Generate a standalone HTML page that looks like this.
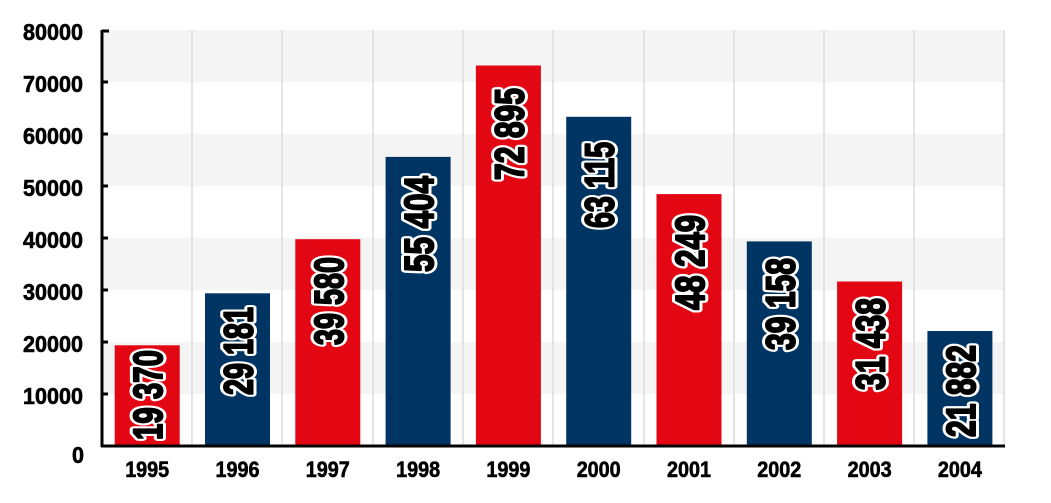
<!DOCTYPE html>
<html><head><meta charset="utf-8"><style>
html,body{margin:0;padding:0;background:#fff;}
svg text{font-family:"Liberation Sans",sans-serif;font-weight:bold;}
</style></head><body>
<svg width="1051" height="498" viewBox="0 0 1051 498" xmlns="http://www.w3.org/2000/svg">
<defs>
<g id="L">
<text transform="translate(162.2,440) rotate(-90)" textLength="90" lengthAdjust="spacingAndGlyphs">19 370</text>
<text transform="translate(252.5,395) rotate(-90)" textLength="88" lengthAdjust="spacingAndGlyphs">29 181</text>
<text transform="translate(342.8,345) rotate(-90)" textLength="88" lengthAdjust="spacingAndGlyphs">39 580</text>
<text transform="translate(433.1,272) rotate(-90)" textLength="96" lengthAdjust="spacingAndGlyphs">55 404</text>
<text transform="translate(523.4,180) rotate(-90)" textLength="92" lengthAdjust="spacingAndGlyphs">72 895</text>
<text transform="translate(613.7,228) rotate(-90)" textLength="86" lengthAdjust="spacingAndGlyphs">63 115</text>
<text transform="translate(704.0,310) rotate(-90)" textLength="95" lengthAdjust="spacingAndGlyphs">48 249</text>
<text transform="translate(794.3,350) rotate(-90)" textLength="92" lengthAdjust="spacingAndGlyphs">39 158</text>
<text transform="translate(884.6,390) rotate(-90)" textLength="92" lengthAdjust="spacingAndGlyphs">31 438</text>
<text transform="translate(974.9,437) rotate(-90)" textLength="92" lengthAdjust="spacingAndGlyphs">21 882</text>
</g>
</defs>
<g fill="#f4f4f4">
<rect x="104" y="30" width="901" height="52"/>
<rect x="104" y="134" width="901" height="52"/>
<rect x="104" y="238" width="901" height="52"/>
<rect x="104" y="342" width="901" height="52"/>
</g>
<g stroke="#dcdcdc" stroke-width="1.5">
<line x1="192" y1="30" x2="192" y2="446"/><line x1="282" y1="30" x2="282" y2="446"/>
<line x1="373" y1="30" x2="373" y2="446"/><line x1="463" y1="30" x2="463" y2="446"/>
<line x1="553" y1="30" x2="553" y2="446"/><line x1="644" y1="30" x2="644" y2="446"/>
<line x1="734" y1="30" x2="734" y2="446"/><line x1="824" y1="30" x2="824" y2="446"/>
<line x1="914" y1="30" x2="914" y2="446"/><line x1="1004" y1="30" x2="1004" y2="446"/>
</g>
<g>
<rect x="114.7" y="345.3" width="65" height="100.7" fill="#e30613"/>
<rect x="205.0" y="293.3" width="65" height="152.7" fill="#003462"/>
<rect x="295.3" y="239.2" width="65" height="206.8" fill="#e30613"/>
<rect x="385.6" y="156.9" width="65" height="289.1" fill="#003462"/>
<rect x="475.9" y="65.5" width="65" height="380.5" fill="#e30613"/>
<rect x="566.2" y="116.8" width="65" height="329.2" fill="#003462"/>
<rect x="656.5" y="194.1" width="65" height="251.9" fill="#e30613"/>
<rect x="746.8" y="241.4" width="65" height="204.6" fill="#003462"/>
<rect x="837.1" y="281.5" width="65" height="164.5" fill="#e30613"/>
<rect x="927.4" y="331" width="65" height="115" fill="#003462"/>
</g>
<g stroke="#000" stroke-width="3" fill="none">
<line x1="102" y1="30" x2="102" y2="447"/>
<line x1="101" y1="446" x2="1005" y2="446"/>
<line x1="102" y1="31" x2="109" y2="31"/><line x1="102" y1="82" x2="108" y2="82"/>
<line x1="102" y1="134" x2="108" y2="134"/><line x1="102" y1="186" x2="108" y2="186"/>
<line x1="102" y1="238" x2="108" y2="238"/><line x1="102" y1="290" x2="108" y2="290"/>
<line x1="102" y1="342" x2="108" y2="342"/><line x1="102" y1="394" x2="108" y2="394"/>
</g>
<g font-size="23" fill="#000" stroke="#000" stroke-width="0.6">
<text x="23" y="40" textLength="60" lengthAdjust="spacingAndGlyphs">80000</text>
<text x="23" y="92" textLength="60" lengthAdjust="spacingAndGlyphs">70000</text>
<text x="23" y="144" textLength="60" lengthAdjust="spacingAndGlyphs">60000</text>
<text x="23" y="196" textLength="60" lengthAdjust="spacingAndGlyphs">50000</text>
<text x="23" y="248" textLength="60" lengthAdjust="spacingAndGlyphs">40000</text>
<text x="23" y="300" textLength="60" lengthAdjust="spacingAndGlyphs">30000</text>
<text x="23" y="352" textLength="60" lengthAdjust="spacingAndGlyphs">20000</text>
<text x="23" y="404" textLength="60" lengthAdjust="spacingAndGlyphs">10000</text>
<text x="72" y="463" textLength="12" lengthAdjust="spacingAndGlyphs">0</text>
</g>
<g font-size="22" fill="#000" stroke="#000" stroke-width="0.6">
<text x="125.2" y="477" textLength="44" lengthAdjust="spacingAndGlyphs">1995</text>
<text x="215.5" y="477" textLength="44" lengthAdjust="spacingAndGlyphs">1996</text>
<text x="305.8" y="477" textLength="44" lengthAdjust="spacingAndGlyphs">1997</text>
<text x="396.1" y="477" textLength="44" lengthAdjust="spacingAndGlyphs">1998</text>
<text x="486.4" y="477" textLength="44" lengthAdjust="spacingAndGlyphs">1999</text>
<text x="576.7" y="477" textLength="44" lengthAdjust="spacingAndGlyphs">2000</text>
<text x="667.0" y="477" textLength="44" lengthAdjust="spacingAndGlyphs">2001</text>
<text x="757.3" y="477" textLength="44" lengthAdjust="spacingAndGlyphs">2002</text>
<text x="847.6" y="477" textLength="44" lengthAdjust="spacingAndGlyphs">2003</text>
<text x="937.9" y="477" textLength="44" lengthAdjust="spacingAndGlyphs">2004</text>
</g>
<g font-size="41" text-anchor="start">
<use href="#L" fill="#fff" stroke="#fff" stroke-width="8" stroke-linejoin="round"/>
<use href="#L" fill="#000" stroke="#000" stroke-width="2" stroke-linejoin="round"/>
</g>
</svg>
</body></html>
